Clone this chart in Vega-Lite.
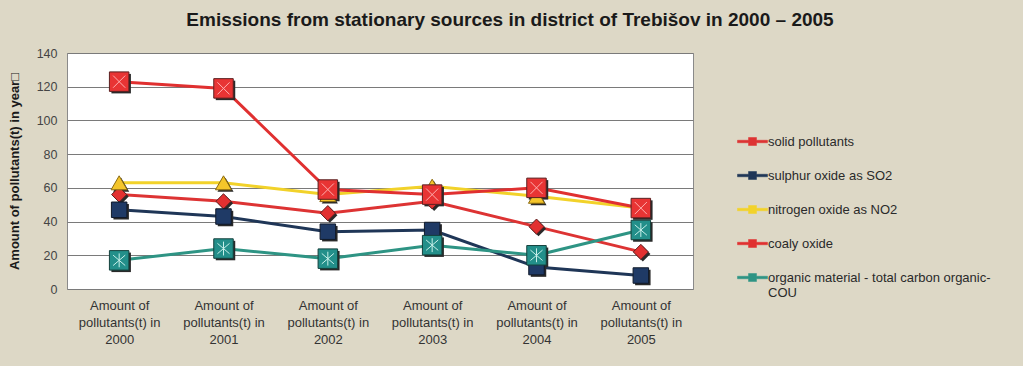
{
  "$schema": "https://vega.github.io/schema/vega-lite/v6.json",
  "autosize": "none",
  "width": 626,
  "height": 236,
  "padding": {"left": 67, "top": 53, "right": 330, "bottom": 77},
  "background": "#ddd8c6",
  "view": {"fill": "white", "stroke": "#8a8a8a", "strokeWidth": 1},
  "title": {
    "text": "Emissions from stationary sources in district of Trebišov in 2000 – 2005",
    "font": "Liberation Sans",
    "fontSize": 19,
    "fontWeight": "bold",
    "color": "#1a1a1a",
    "anchor": "middle",
    "frame": "group",
    "dx": 130,
    "offset": 17
  },
  "config": {
    "font": "Liberation Sans",
    "axis": {"labelFont": "Liberation Sans", "titleFont": "Liberation Sans"},
    "legend": {"labelFont": "Liberation Sans"}
  },
  "data": {
    "values": [
      {"year": "2000", "series": "solid pollutants", "value": 56},
      {"year": "2001", "series": "solid pollutants", "value": 52},
      {"year": "2002", "series": "solid pollutants", "value": 45},
      {"year": "2003", "series": "solid pollutants", "value": 52},
      {"year": "2004", "series": "solid pollutants", "value": 37},
      {"year": "2005", "series": "solid pollutants", "value": 22},
      {"year": "2000", "series": "sulphur oxide as SO2", "value": 47},
      {"year": "2001", "series": "sulphur oxide as SO2", "value": 43},
      {"year": "2002", "series": "sulphur oxide as SO2", "value": 34},
      {"year": "2003", "series": "sulphur oxide as SO2", "value": 35},
      {"year": "2004", "series": "sulphur oxide as SO2", "value": 13},
      {"year": "2005", "series": "sulphur oxide as SO2", "value": 8},
      {"year": "2000", "series": "nitrogen oxide as NO2", "value": 63},
      {"year": "2001", "series": "nitrogen oxide as NO2", "value": 63},
      {"year": "2002", "series": "nitrogen oxide as NO2", "value": 56},
      {"year": "2003", "series": "nitrogen oxide as NO2", "value": 61},
      {"year": "2004", "series": "nitrogen oxide as NO2", "value": 55},
      {"year": "2005", "series": "nitrogen oxide as NO2", "value": 48},
      {"year": "2000", "series": "coaly oxide", "value": 123},
      {"year": "2001", "series": "coaly oxide", "value": 119},
      {"year": "2002", "series": "coaly oxide", "value": 59},
      {"year": "2003", "series": "coaly oxide", "value": 56},
      {"year": "2004", "series": "coaly oxide", "value": 60},
      {"year": "2005", "series": "coaly oxide", "value": 48},
      {"year": "2000", "series": "organic material - total carbon organic-COU", "value": 17},
      {"year": "2001", "series": "organic material - total carbon organic-COU", "value": 24},
      {"year": "2002", "series": "organic material - total carbon organic-COU", "value": 18},
      {"year": "2003", "series": "organic material - total carbon organic-COU", "value": 26},
      {"year": "2004", "series": "organic material - total carbon organic-COU", "value": 20},
      {"year": "2005", "series": "organic material - total carbon organic-COU", "value": 35}
    ]
  },
  "encoding": {
    "x": {
      "field": "year",
      "type": "ordinal",
      "scale": {"type": "point", "padding": 0.5},
      "axis": {
        "title": null,
        "domain": false,
        "ticks": false,
        "grid": false,
        "labelAngle": 0,
        "labelFontSize": 13,
        "labelColor": "#333333",
        "labelPadding": 10,
        "labelLineHeight": 17,
        "labelBaseline": "top",
        "labelExpr": "['Amount of', 'pollutants(t) in', datum.label]"
      }
    },
    "y": {
      "field": "value",
      "type": "quantitative",
      "scale": {"domain": [0, 140], "nice": false},
      "axis": {
        "values": [0, 20, 40, 60, 80, 100, 120, 140],
        "title": "Amount of pollutants(t) in year\u25a1",
        "titleFontSize": 13,
        "titleFontWeight": "bold",
        "titleColor": "#1a1a1a",
        "titleX": -46,
        "titleY": 118,
        "domain": false,
        "ticks": false,
        "grid": true,
        "gridColor": "#7a7a7a",
        "gridWidth": 1,
        "labelFontSize": 12.5,
        "labelColor": "#444444",
        "labelPadding": 10
      }
    },
    "color": {
      "field": "series",
      "type": "nominal",
      "scale": {
        "domain": ["solid pollutants", "sulphur oxide as SO2", "nitrogen oxide as NO2", "coaly oxide", "organic material - total carbon organic-COU"],
        "range": ["#dd3333", "#1f3657", "#f2d22a", "#e03030", "#2e9484"]
      },
      "legend": {
        "title": null,
        "orient": "none",
        "legendX": 679,
        "legendY": 82,
        "padding": 0,
        "labelFontSize": 13,
        "labelColor": "#2a2a2a",
        "rowPadding": 20,
        "symbolType": "M-3,-0.25H-0.8V-0.8H0.8V-0.25H3V0.25H0.8V0.8H-0.8V0.25H-3Z",
        "symbolSize": 100,
        "symbolStrokeWidth": 0.6,
        "symbolOpacity": 1,
        "labelLimit": 300,
        "labelOffset": 9,
        "labelExpr": "datum.label == 'organic material - total carbon organic-COU' ? ['organic material - total carbon organic-', 'COU'] : datum.label",
        "encode": {
          "symbols": {
            "update": {
              "fill": {"scale": "color", "field": "value"},
              "stroke": {"value": "#3a2a2a"},
              "strokeWidth": {"value": 0.5}
            }
          }
        }
      }
    }
  },
  "layer": [
    {
      "mark": {"type": "line", "strokeWidth": 3},
      "encoding": {}
    },
    {
      "transform": [{"filter": "datum.series == 'solid pollutants'"}],
      "mark": {"type": "point", "shape": "diamond", "size": 230, "filled": true, "opacity": 1, "xOffset": 2, "yOffset": 2},
      "encoding": {"color": {"value": "#2a2a2a"}}
    },
    {
      "transform": [{"filter": "datum.series == 'sulphur oxide as SO2'"}],
      "mark": {"type": "point", "shape": "square", "size": 240, "filled": true, "opacity": 1, "xOffset": 2, "yOffset": 2},
      "encoding": {"color": {"value": "#2a2a2a"}}
    },
    {
      "transform": [{"filter": "datum.series == 'nitrogen oxide as NO2'"}],
      "mark": {"type": "point", "shape": "triangle-up", "size": 260, "filled": true, "opacity": 1, "xOffset": 2, "yOffset": 2},
      "encoding": {"color": {"value": "#2a2a2a"}}
    },
    {
      "transform": [{"filter": "datum.series == 'coaly oxide' || datum.series == 'organic material - total carbon organic-COU'"}],
      "mark": {"type": "point", "shape": "square", "size": 380, "filled": true, "opacity": 1, "xOffset": 2, "yOffset": 2},
      "encoding": {"color": {"value": "#2a2a2a"}}
    },
    {
      "transform": [{"filter": "datum.series == 'solid pollutants'"}],
      "mark": {"type": "point", "shape": "diamond", "size": 230, "filled": true, "opacity": 1, "strokeWidth": 1, "stroke": "#5a2020"},
      "encoding": {"color": {"value": "#e23030"}}
    },
    {
      "transform": [{"filter": "datum.series == 'sulphur oxide as SO2'"}],
      "mark": {"type": "point", "shape": "square", "size": 240, "filled": true, "opacity": 1, "strokeWidth": 1, "stroke": "#111a2a"},
      "encoding": {"color": {"value": "#1f3a66"}}
    },
    {
      "transform": [{"filter": "datum.series == 'nitrogen oxide as NO2'"}],
      "mark": {"type": "point", "shape": "triangle-up", "size": 260, "filled": true, "opacity": 1, "strokeWidth": 1, "stroke": "#8a6a10"},
      "encoding": {"color": {"value": "#f4c52a"}}
    },
    {
      "transform": [{"filter": "datum.series == 'coaly oxide'"}],
      "mark": {"type": "point", "shape": "square", "size": 380, "filled": true, "opacity": 1, "strokeWidth": 1, "stroke": "#5a2020"},
      "encoding": {"color": {"value": "#e83434"}}
    },
    {
      "transform": [{"filter": "datum.series == 'organic material - total carbon organic-COU'"}],
      "mark": {"type": "point", "shape": "square", "size": 380, "filled": true, "opacity": 1, "strokeWidth": 1, "stroke": "#14403c"},
      "encoding": {"color": {"value": "#238f8a"}}
    },
    {
      "transform": [{"filter": "datum.series == 'coaly oxide'"}],
      "mark": {"type": "point", "filled": false, "shape": "M-0.7,-0.7L0.7,0.7M0.7,-0.7L-0.7,0.7", "strokeWidth": 1, "size": 300, "opacity": 1},
      "encoding": {"color": {"value": "#ffb0b0"}}
    },
    {
      "transform": [{"filter": "datum.series == 'organic material - total carbon organic-COU'"}],
      "mark": {"type": "point", "filled": false, "shape": "M0,-0.8L0,0.8M-0.7,-0.6L0.7,0.6M0.7,-0.6L-0.7,0.6", "strokeWidth": 1, "size": 300, "opacity": 1},
      "encoding": {"color": {"value": "#c8f0ea"}}
    }
  ]
}
